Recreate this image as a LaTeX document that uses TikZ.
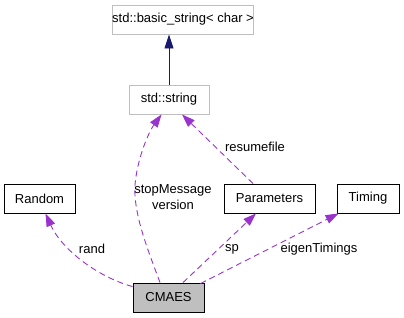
\documentclass[tikz,border=0pt]{standalone}
\usepackage{fontspec}
\setmainfont{Liberation Sans}
\usetikzlibrary{arrows.meta}
\definecolor{edgepurple}{HTML}{9A32CD}
\definecolor{edgenavy}{HTML}{191970}
\definecolor{boxgray}{HTML}{BFBFBF}
\begin{document}
\begin{tikzpicture}[x=1pt,y=-1pt,
  every node/.style={font=\fontsize{13}{15.5}\selectfont},
  cls/.style={draw=black,fill=white,line width=0.9pt,minimum height=29pt,inner sep=0pt,anchor=center},
  extcls/.style={cls,draw=boxgray},
  focus/.style={cls,fill=boxgray},
  uses/.style={draw=edgepurple,line width=0.9pt,dash pattern=on 6pt off 4pt,
    -{Triangle[length=13pt,width=9pt,fill=edgepurple]}},
  inherits/.style={draw=edgenavy,line width=0.9pt,
    -{Triangle[length=14pt,width=9pt,fill=edgenavy]}},
  lbl/.style={inner sep=0pt,align=center}]
\useasboundingbox (0,0) rectangle (404,317);

% classes
\node[extcls,minimum width=140pt] (basic) at (183,19.5) {std::basic\_string< char >};
\node[extcls,minimum width=80pt] (string) at (169,99.5) {std::string};
\node[cls,minimum width=71pt] (random) at (39.5,198.5) {Random};
\node[cls,minimum width=91pt] (params) at (269.5,198.5) {Parameters};
\node[cls,minimum width=62pt] (timing) at (368,198.5) {Timing};
\node[focus,minimum width=71pt] (cmaes) at (168.5,297.5) {CMAES};

% inheritance
\draw[inherits] (string.north) -- (string.north |- basic.south);

% members
\draw[uses] ([yshift=-4pt]cmaes.north west)
  .. controls (98,277) and (62,250) .. ([xshift=6pt]random.south);
\draw[uses] ([xshift=-8.5pt]cmaes.north)
  .. controls (150,255) and (133,215) .. (135,185)
  .. controls (137,160) and (148,133) .. ([xshift=-7.5pt]string.south);
\draw[uses] ([xshift=-16.5pt]params.north) -- ([xshift=13pt]string.south);
\draw[uses] ([xshift=14.5pt]cmaes.north) -- ([xshift=-13.5pt]params.south);
\draw[uses] ([xshift=-4pt,yshift=-1pt]cmaes.north east) -- ([xshift=2pt]timing.south west);

% member names
\node[lbl] (lrand) at (92,249) {rand};
\node[lbl] (lstop) at (173,197) {stopMessage\\version};
\node[lbl] (lresume) at (255,147) {resumefile};
\node[lbl] (lsp) at (232,249) {sp};
\node[lbl] (leigen) at (319,249) {eigenTimings};
\end{tikzpicture}
\end{document}
